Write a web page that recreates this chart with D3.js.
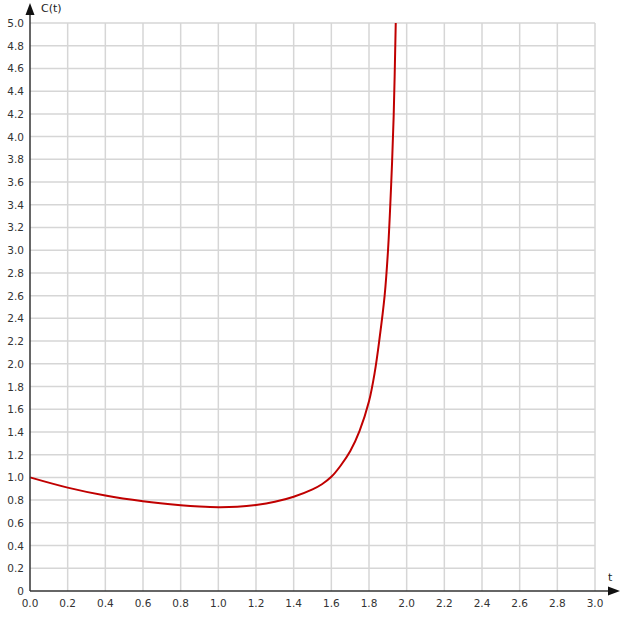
<!DOCTYPE html>
<html>
<head>
<meta charset="utf-8">
<script src="https://cdn.jsdelivr.net/npm/d3@7"></script>
<style>
  body { margin: 0; background: #fff; }
  text { font-family: "DejaVu Sans", Verdana, sans-serif; }
</style>
</head>
<body>
<svg id="chart"></svg>
<script>
// values
const tValues = [0, 0.2, 0.4, 0.6, 0.8, 0.9, 1.0, 1.1, 1.2, 1.3, 1.4, 1.5, 1.55, 1.6, 1.65, 1.7, 1.75, 1.8, 1.83, 1.855, 1.883, 1.901, 1.918, 1.931, 1.942];
const cValues = [1.0, 0.91, 0.84, 0.79, 0.755, 0.743, 0.737, 0.741, 0.757, 0.785, 0.83, 0.895, 0.94, 1.005, 1.105, 1.23, 1.41, 1.67, 1.92, 2.21, 2.6, 3.0, 3.59, 4.18, 5.0];
const xTicks = d3.range(0, 16).map(i => i * 0.2);
const yTicks = d3.range(0, 26).map(i => i * 0.2);

const width = 623, height = 618;
const plotLeft = 30, plotRight = 595, plotTop = 23, plotBottom = 591;

const svg = d3.select('#chart')
  .attr('width', width)
  .attr('height', height);

let xScale = d3.scaleLinear().domain([0, 3]).range([plotLeft, plotRight]);
let yScale = d3.scaleLinear().domain([0, 5]).range([plotBottom, plotTop]);

// grid
svg.append('g')
  .selectAll('line')
  .data(xTicks.slice(1))
  .enter().append('line')
  .attr('x1', d => xScale(d)).attr('x2', d => xScale(d))
  .attr('y1', plotTop).attr('y2', plotBottom)
  .style('stroke', '#d6d6d6')
  .style('stroke-width', 1.5);
svg.append('g')
  .selectAll('line')
  .data(yTicks.slice(1))
  .enter().append('line')
  .attr('x1', plotLeft).attr('x2', plotRight)
  .attr('y1', d => yScale(d)).attr('y2', d => yScale(d))
  .style('stroke', '#d6d6d6')
  .style('stroke-width', 1.5);

// tick labels
svg.append('g')
  .selectAll('text')
  .data(xTicks)
  .enter().append('text')
  .attr('x', d => xScale(d))
  .attr('y', 607)
  .attr('text-anchor', 'middle')
  .style('font-size', '10.5px')
  .style('fill', '#333')
  .text(d => d.toFixed(1));
svg.append('g')
  .selectAll('text')
  .data(yTicks)
  .enter().append('text')
  .attr('x', 24)
  .attr('y', d => yScale(d) + 4)
  .attr('text-anchor', 'end')
  .style('font-size', '10.5px')
  .style('fill', '#333')
  .text(d => d === 0 ? '0' : d.toFixed(1));

// curve
const line = d3.line()
  .x((d, i) => xScale(tValues[i]))
  .y(d => yScale(d))
  .curve(d3.curveCatmullRom.alpha(0.5));
svg.append('path')
  .datum(cValues)
  .attr('d', line)
  .style('fill', 'none')
  .style('stroke', '#c00000')
  .style('stroke-width', 2);

// axes with arrows
svg.append('line')
  .attr('x1', plotLeft).attr('x2', 612)
  .attr('y1', plotBottom).attr('y2', plotBottom)
  .style('stroke', '#333').style('stroke-width', 1.5);
svg.append('line')
  .attr('x1', plotLeft).attr('x2', plotLeft)
  .attr('y1', plotBottom).attr('y2', 12)
  .style('stroke', '#333').style('stroke-width', 1.5);
svg.append('path')
  .attr('d', `M620,${plotBottom} L608,${plotBottom - 4.5} L608,${plotBottom + 4.5} Z`)
  .style('fill', '#111');
svg.append('path')
  .attr('d', `M${plotLeft},3 L${plotLeft - 4.5},15 L${plotLeft + 4.5},15 Z`)
  .style('fill', '#111');

svg.append('text')
  .attr('x', 41).attr('y', 12)
  .style('font-size', '11px')
  .style('fill', '#222')
  .text('C(t)');
svg.append('text')
  .attr('x', 608).attr('y', 581)
  .style('font-size', '11px')
  .style('fill', '#222')
  .text('t');
</script>
</body>
</html>
